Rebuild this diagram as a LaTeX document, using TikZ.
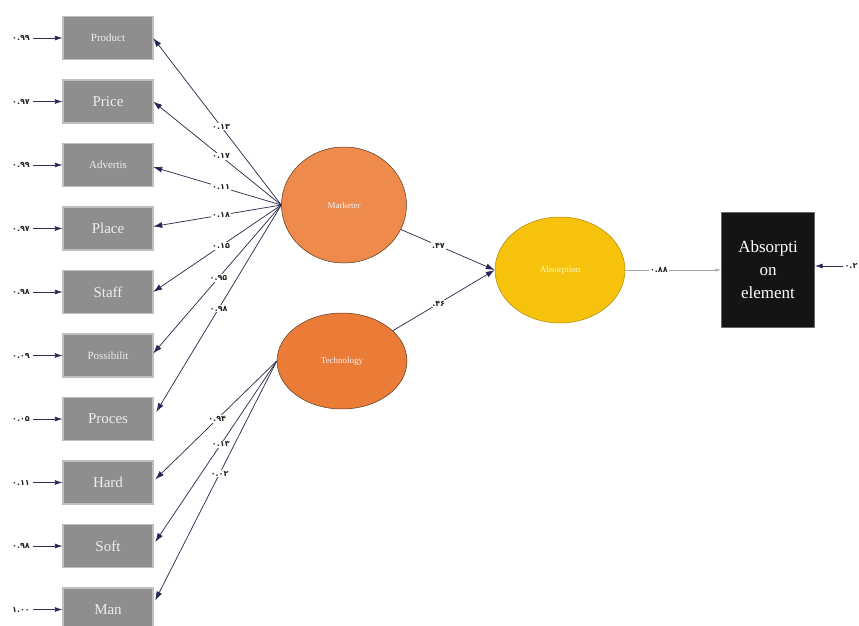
\documentclass[tikz,border=0pt]{standalone}
\usepackage{fontspec}
\setmainfont{Liberation Serif}
\newfontfamily\fa{DejaVu Sans}
\usetikzlibrary{shapes.geometric,arrows.meta}
\definecolor{boxgray}{HTML}{8E8E8E}
\definecolor{navyline}{HTML}{2E3050}
\definecolor{navytip}{HTML}{1E2266}
\definecolor{mkorange}{HTML}{EE8A4C}
\definecolor{tcorange}{HTML}{EA7C38}
\definecolor{absyellow}{HTML}{F6C20C}
\begin{document}
\begin{tikzpicture}[x=1pt,y=-1pt,
  ind/.style={draw=black!70, double=white!75!black, double distance=1.1pt, fill=boxgray,
    minimum width=90pt, minimum height=43pt, inner sep=0pt, text=white!93!black,
    font=\fontsize{15}{16}\selectfont},
  indsm/.style={ind, font=\fontsize{11}{12}\selectfont},
  lat/.style={ellipse, draw=black!55!brown, line width=0.5pt, inner sep=0pt, text=white!95!black,
    font=\fontsize{9}{10}\selectfont},
  load/.style={draw=navyline, line width=0.75pt, -{Latex[length=9pt,width=6pt,fill=navytip]}},
  coef/.style={fill=white, inner sep=1.2pt, text=black!85, font=\fa\bfseries\fontsize{8}{9}\selectfont},
  err/.style={inner sep=1pt, text=black!85, font=\fa\bfseries\fontsize{8}{9}\selectfont},
  errarrow/.style={draw=navyline, line width=0.9pt, -{Latex[length=8pt,width=5pt,fill=navytip]}}
]
\useasboundingbox (0,0) rectangle (859,626);

% indicator boxes
\node[indsm] (product) at (108,38) {Product};
\node[ind] (price) at (108,101.5) {Price};
\node[indsm] (advertis) at (108,165) {Advertis};
\node[ind] (place) at (108,228.5) {Place};
\node[ind] (staff) at (108,292) {Staff};
\node[indsm] (possib) at (108,355.5) {Possibilit};
\node[ind] (proces) at (108,419) {Proces};
\node[ind] (hard) at (108,482.5) {Hard};
\node[ind] (soft) at (108,546) {Soft};
\node[ind] (man) at (108,609.5) {Man};

% error terms
\node[err] (e1) at (21,38) {۰.۹۹};
\node[err] (e2) at (21,101.5) {۰.۹۷};
\node[err] (e3) at (21,165) {۰.۹۹};
\node[err] (e4) at (21,228.5) {۰.۹۷};
\node[err] (e5) at (21,292) {۰.۹۸};
\node[err] (e6) at (21,355.5) {۰.۰۹};
\node[err] (e7) at (21,419) {۰.۰۵};
\node[err] (e8) at (21,482.5) {۰.۱۱};
\node[err] (e9) at (21,546) {۰.۹۸};
\node[err] (e10) at (21,609.5) {۱.۰۰};
\foreach \e/\b in {e1/product,e2/price,e3/advertis,e4/place,e5/staff,e6/possib,e7/proces,e8/hard,e9/soft,e10/man}
  \draw[errarrow] ([xshift=2pt]\e.east) -- (\b.west);

% latent variables
\node[lat, fill=mkorange, minimum width=125pt, minimum height=116pt] (marketer) at (344,205) {Marketer};
\node[lat, fill=tcorange, minimum width=130pt, minimum height=96pt] (technology) at (342,361) {Technology};
\node[lat, fill=absyellow, draw=black!30!absyellow, text=yellow!25!white, minimum width=130pt, minimum height=106pt] (absorption) at (560,270) {Absorption};

% outcome box
\node[fill=black!92, draw=black!60, minimum width=93pt, minimum height=115pt, text=white, align=center,
  font=\fontsize{17}{23}\selectfont] (outcome) at (768,270) {Absorpti\\on\\element};

% marketer loadings
\draw[load] (marketer.west) -- node[coef, pos=0.47] (l1) {۰.۱۳} (product.east);
\draw[load] (marketer.west) -- node[coef, pos=0.47] (l2) {۰.۱۷} (price.east);
\draw[load] (marketer.west) -- node[coef, pos=0.47] (l3) {۰.۱۱} ([yshift=-2pt]advertis.east);
\draw[load] (marketer.west) -- node[coef, pos=0.47] (l4) {۰.۱۸} ([yshift=2pt]place.east);
\draw[load] (marketer.west) -- node[coef, pos=0.47] (l5) {۰.۱۵} (staff.east);
\draw[load] (marketer.west) -- node[coef, pos=0.49] (l6) {۰.۹۵} ([yshift=2pt]possib.east);
\draw[load] (marketer.west) -- node[coef, pos=0.5] (l7) {۰.۹۸} ([xshift=3pt,yshift=7pt]proces.east);

% technology loadings
\draw[load] (technology.west) -- node[coef, pos=0.49] (l8) {۰.۹۴} ([xshift=2pt,yshift=3pt]hard.east);
\draw[load] (technology.west) -- node[coef, pos=0.46] (l9) {۰.۱۳} ([xshift=2pt,yshift=4pt]soft.east);
\draw[load] (technology.west) -- node[coef, pos=0.47] (l10) {۰.۰۲} ([xshift=2pt,yshift=9pt]man.east);

% structural paths
\draw[load] (marketer) -- node[coef, pos=0.4] (p1) {.۴۷} (absorption.west);
\draw[load] (technology) -- node[coef, pos=0.45] (p2) {.۴۶} (absorption.west);
\draw[draw=black!35, line width=0.5pt, -{Latex[length=6pt,width=3pt,fill=black!25]}]
  (absorption.east) -- node[coef, pos=0.35] (p3) {۰.۸۸} (outcome.west);

% outcome error
\node[err] (e11) at (851,266) {۰.۲};
\draw[errarrow] (e11.west) -- ([yshift=4pt]outcome.east);
\end{tikzpicture}
\end{document}
